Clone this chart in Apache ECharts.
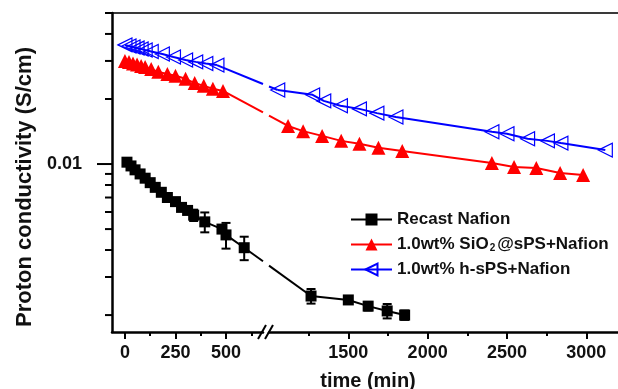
<!DOCTYPE html>
<html>
<head>
<meta charset="utf-8">
<script src="https://cdn.jsdelivr.net/npm/echarts@6/dist/echarts.min.js"></script>
<style>
  html, body { margin: 0; padding: 0; background: #fff; }
  #main { width: 618px; height: 389px; }
</style>
</head>
<body>
<div id="main"></div>
<script>
(function () {
    'use strict';

    var FONT = "'Liberation Sans', Arial, sans-serif";

    // series names as in the legend
    var NAMES = ['Recast Nafion', '1.0wt% SiO2@sPS+Nafion', '1.0wt% h-sPS+Nafion'];

    // Recast Nafion (time in min, conductivity in S/cm, error bar half-height)
    var blackT = [10, 30, 50, 75, 100, 125, 150, 180, 210, 250, 280, 310, 340, 395, 480, 500, 590,
        1265, 1500, 1625, 1745, 1855];
    var blackV = [0.0102, 0.0098, 0.0094, 0.0090, 0.0086, 0.0082, 0.0078, 0.0074, 0.0070, 0.0067,
        0.0063, 0.0061, 0.0058, 0.0054, 0.0050, 0.0047, 0.0041,
        0.00245, 0.00235, 0.00220, 0.00209, 0.00200];
    var blackErr = [0, 0, 0, 0, 0, 0, 0, 0, 0, 0, 0, 0, 0.00035, 0.00057, 0.0002, 0.00064, 0.00051,
        0.00019, 0, 0.0001, 0.00016, 0.0001];

    // 1.0wt% SiO2@sPS + Nafion
    var redT = [0, 20, 40, 60, 80, 100, 130, 165, 210, 250, 300, 345, 390, 435, 485,
        1120, 1215, 1335, 1455, 1570, 1690, 1840, 2405, 2545, 2685, 2835, 2980];
    var redV = [0.0300, 0.0297, 0.0292, 0.0289, 0.0284, 0.0281, 0.0275, 0.0267, 0.0261, 0.0256,
        0.0248, 0.0237, 0.0230, 0.0223, 0.0218,
        0.0150, 0.0142, 0.0135, 0.0128, 0.0124, 0.0119, 0.0115, 0.0101, 0.00968, 0.00958,
        0.00908, 0.00889];

    // 1.0wt% h-sPS + Nafion
    var blueT = [0, 20, 40, 60, 80, 100, 130, 185, 240, 300, 350, 400, 455,
        1055, 1275, 1345, 1450, 1570, 1680, 1800, 2405, 2500, 2630, 2755, 2840, 3120];
    var blueV = [0.0356, 0.0352, 0.0348, 0.0344, 0.0341, 0.0337, 0.0332, 0.0323, 0.0313, 0.0303,
        0.0297, 0.0292, 0.0287,
        0.0220, 0.0209, 0.0196, 0.0186, 0.0180, 0.0172, 0.0165, 0.0141, 0.0138, 0.0131,
        0.0128, 0.0125, 0.0116];

    // broken time axis: two ranges
    var X1_MIN = -64, X1_MAX = 683;
    var X2_MIN = 1000, X2_MAX = 3200;
    var xMajor1 = [0, 250, 500];
    var xMinor1 = [125, 375, 625];
    var xMajor2 = [1500, 2000, 2500, 3000];
    var xMinor2 = [1250, 1750, 2250, 2750];

    // log conductivity axis
    var Y_MIN = 0.00167, Y_MAX = 0.05;
    var yTicks = [0.002, 0.003, 0.004, 0.005, 0.006, 0.007, 0.008, 0.009, 0.01, 0.02, 0.03, 0.04, 0.05];
    var Y_LABEL = 0.01;

    var chart = echarts.init(document.getElementById('main'));

    /* ------------------------------------------------------------------ */
    /*  Helpers                                                            */
    /* ------------------------------------------------------------------ */

    function inSecond(t) { return t > (X1_MAX + X2_MIN) / 2; }

    function part(t, v, second) {
        var out = [];
        for (var i = 0; i < t.length; i++) {
            if (inSecond(t[i]) === second) out.push([t[i], v[i]]);
        }
        return out;
    }

    function lineSeries(name, second, t, v, st) {
        return {
            name: name,
            type: 'line',
            xAxisIndex: second ? 2 : 0,
            yAxisIndex: second ? 1 : 0,
            data: part(t, v, second),
            symbol: st.symbol,
            symbolSize: st.size,
            symbolRotate: st.rotate || 0,
            lineStyle: { color: st.color, width: 2 },
            itemStyle: { color: st.fill, borderColor: st.color, borderWidth: st.border },
            emphasis: { disabled: true },
            z: 3
        };
    }

    function hline(x1, y1, x2, y2, color, w) {
        return { type: 'line', shape: { x1: x1, y1: y1, x2: x2, y2: y2 },
            style: { stroke: color, lineWidth: w } };
    }

    // error bars
    function renderErr(params, api) {
        var t = api.value(0), v = api.value(1), e = api.value(2);
        if (!e) return;
        var hi = api.coord([t, v + e]);
        var lo = api.coord([t, v - e]);
        var w = 4.5;
        return { type: 'group', children: [
            hline(hi[0], hi[1], lo[0], lo[1], '#000', 2),
            hline(hi[0] - w, hi[1], hi[0] + w, hi[1], '#000', 2),
            hline(lo[0] - w, lo[1], lo[0] + w, lo[1], '#000', 2)
        ] };
    }

    function errSeries(second) {
        var data = [];
        for (var i = 0; i < blackT.length; i++) {
            if (inSecond(blackT[i]) === second) data.push([blackT[i], blackV[i], blackErr[i]]);
        }
        return {
            type: 'custom', xAxisIndex: second ? 2 : 0, yAxisIndex: second ? 1 : 0,
            data: data, renderItem: renderErr, silent: true, z: 2
        };
    }

    // line piece crossing the axis break, drawn in pixel space
    function bridgeSeries(t, v, color) {
        var a = -1;
        for (var i = 0; i < t.length; i++) if (!inSecond(t[i])) a = i;
        var b = a + 1;
        return {
            type: 'custom', xAxisIndex: 0, yAxisIndex: 0, clip: false, silent: true, z: 2,
            data: [[t[a], v[a], t[b], v[b]]],
            renderItem: function (params, api) {
                var p1 = api.coord([api.value(0), api.value(1)]);
                var p2 = chart.convertToPixel({ xAxisIndex: 2, yAxisIndex: 1 },
                    [api.value(2), api.value(3)]);
                var edge = chart.convertToPixel({ xAxisIndex: 2, yAxisIndex: 1 },
                    [X2_MIN, api.value(3)]);
                if (!p2 || !edge) return;
                var xa = params.coordSys.x + params.coordSys.width;
                var xb = edge[0];
                var k = (p2[1] - p1[1]) / (p2[0] - p1[0]);
                return { type: 'group', children: [
                    hline(p1[0], p1[1], xa, p1[1] + k * (xa - p1[0]), color, 2),
                    hline(xb, p1[1] + k * (xb - p1[0]), p2[0], p2[1], color, 2)
                ] };
            }
        };
    }

    // y ticks of the log axis
    function yTickSeries() {
        return {
            type: 'custom', xAxisIndex: 0, yAxisIndex: 0, clip: false, silent: true,
            data: yTicks.map(function (v) { return [X1_MIN, v]; }),
            renderItem: function (params, api) {
                var p = api.coord([api.value(0), api.value(1)]);
                var x = params.coordSys.x;
                var len = api.value(1) === Y_LABEL ? 15 : 7;
                return hline(x - len, p[1], x, p[1], '#000', 2);
            }
        };
    }

    var labelStyle = { fontFamily: FONT, fontWeight: 'bold', fontSize: 18, color: '#111' };

    function xAxis(grid, min, max, ticks, labels, len, showLine) {
        return {
            type: 'value', gridIndex: grid, min: min, max: max, position: 'bottom',
            axisLine: showLine ? { show: true, onZero: false, lineStyle: { color: '#000', width: 2.5 } }
                : { show: false },
            axisTick: { show: true, customValues: ticks, length: len, inside: false,
                lineStyle: { color: '#000', width: 2 } },
            axisLabel: labels ? Object.assign({
                customValues: labels, margin: 12,
                formatter: function (v) { return String(v); }
            }, labelStyle) : { show: false },
            splitLine: { show: false }
        };
    }

    /* ------------------------------------------------------------------ */
    /*  Chart                                                              */
    /* ------------------------------------------------------------------ */

    var styles = [
        { symbol: 'rect', size: 11, color: '#000', fill: '#000', border: 0 },
        { symbol: 'triangle', size: 14, color: '#ff0000', fill: '#ff0000', border: 0 },
        { symbol: 'triangle', size: 14, rotate: 90, color: '#0000ff', fill: 'rgba(255,255,255,0)', border: 1.2 }
    ];
    var sets = [[blackT, blackV], [redT, redV], [blueT, blueV]];

    var series = [yTickSeries(), errSeries(false), errSeries(true)];
    sets.forEach(function (s, i) {
        series.push(bridgeSeries(s[0], s[1], styles[i].color));
    });
    sets.forEach(function (s, i) {
        series.push(lineSeries(NAMES[i], false, s[0], s[1], styles[i]));
        series.push(lineSeries(NAMES[i], true, s[0], s[1], styles[i]));
    });

    chart.setOption({
        animation: false,
        backgroundColor: '#fff',
        grid: [
            { left: 112, top: 13, width: 151, height: 319 },
            { left: 269, top: 13, width: 357, height: 319 }
        ],
        xAxis: [
            xAxis(0, X1_MIN, X1_MAX, xMajor1, xMajor1, 7, true),
            xAxis(0, X1_MIN, X1_MAX, xMinor1, null, 4, false),
            xAxis(1, X2_MIN, X2_MAX, xMajor2, xMajor2, 7, true),
            xAxis(1, X2_MIN, X2_MAX, xMinor2, null, 4, false)
        ],
        yAxis: [
            {
                type: 'log', logBase: 10, gridIndex: 0, min: Y_MIN, max: Y_MAX, position: 'left',
                axisLine: { show: true, onZero: false, lineStyle: { color: '#000', width: 2.5 } },
                axisTick: { show: false },
                axisLabel: Object.assign({
                    margin: 30,
                    formatter: function (v) {
                        return Math.abs(v - Y_LABEL) < 1e-9 ? String(Y_LABEL) : '';
                    }
                }, labelStyle),
                splitLine: { show: false }
            },
            { type: 'log', logBase: 10, gridIndex: 1, min: Y_MIN, max: Y_MAX, show: false }
        ],
        legend: {
            data: NAMES,
            orient: 'vertical',
            left: 345,
            top: 206,
            itemWidth: 41,
            itemHeight: 15,
            itemGap: 8,
            selectedMode: false,
            formatter: function (name) {
                return '{t|' + name.replace('SiO2', 'SiO}{s|2}{t|') + '}';
            },
            textStyle: {
                rich: {
                    t: { fontFamily: FONT, fontWeight: 'bold', fontSize: 17, color: '#111' },
                    s: { fontFamily: FONT, fontWeight: 'bold', fontSize: 10, color: '#111',
                        verticalAlign: 'bottom', padding: [0, 2, 0, 1] }
                }
            }
        },
        graphic: [
            hline(112, 13, 618, 13, '#3a3a3a', 2),
            hline(258, 339, 266, 325, '#000', 2),
            hline(265, 339, 273, 325, '#000', 2),
            {
                type: 'text', x: 368, y: 381,
                style: { text: 'time (min)', font: 'bold 20px ' + FONT, fill: '#111',
                    align: 'center', verticalAlign: 'middle' }
            },
            {
                type: 'text', x: 25, y: 187, rotation: Math.PI / 2,
                style: { text: 'Proton conductivity (S/cm)', font: 'bold 22px ' + FONT, fill: '#111',
                    align: 'center', verticalAlign: 'middle' }
            }
        ],
        series: series
    });
})();
</script>
</body>
</html>
